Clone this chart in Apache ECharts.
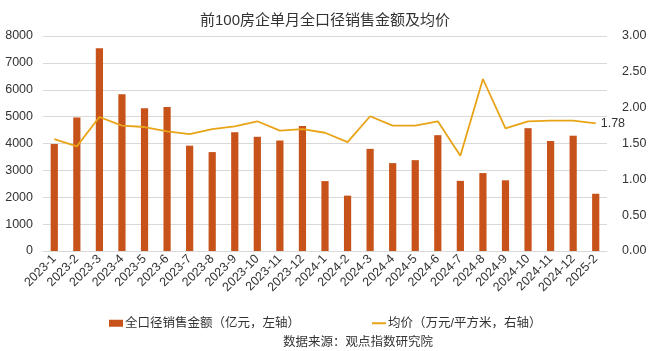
<!DOCTYPE html>
<html>
<head>
<meta charset="utf-8">
<script src="https://cdn.jsdelivr.net/npm/echarts@6/dist/echarts.min.js"></script>
<style>
  html, body { margin: 0; padding: 0; background: #fff; }
  #chart { width: 650px; height: 351px; }
</style>
</head>
<body>
<div id="chart"></div>
<script>
// 月份
const months = [
  '2023-1', '2023-2', '2023-3', '2023-4', '2023-5', '2023-6', '2023-7', '2023-8',
  '2023-9', '2023-10', '2023-11', '2023-12', '2024-1', '2024-2', '2024-3', '2024-4',
  '2024-5', '2024-6', '2024-7', '2024-8', '2024-9', '2024-10', '2024-11', '2024-12', '2025-2'
];
// 全口径销售金额（亿元）
const salesAmount = [
  3980, 4970, 7540, 5830, 5310, 5360, 3920, 3680,
  4420, 4250, 4110, 4650, 2600, 2060, 3800, 3270,
  3380, 4310, 2610, 2900, 2630, 4570, 4090, 4290, 2130
];
// 均价（万元/平方米）
const avgPrice = [
  1.56, 1.46, 1.87, 1.75, 1.73, 1.67, 1.63, 1.70,
  1.74, 1.81, 1.68, 1.70, 1.65, 1.52, 1.88, 1.75,
  1.75, 1.81, 1.33, 2.40, 1.71, 1.81, 1.82, 1.82, 1.78
];

const barColor = '#C7531A';
const lineColor = '#E8A317';
const textColor = '#333';
const gridColor = '#d9d9d9';
const fontFamily = '"Liberation Sans", "Noto Sans CJK SC", sans-serif';

const chart = echarts.init(document.getElementById('chart'));
chart.setOption({
  animation: false,
  textStyle: { fontFamily: fontFamily },
  title: [
    {
      text: '前100房企单月全口径销售金额及均价',
      left: 'center',
      top: 8,
      textStyle: { color: textColor, fontSize: 15, fontWeight: 'normal', fontFamily: fontFamily }
    },
    {
      text: '数据来源：观点指数研究院',
      left: 278,
      top: 331,
      textStyle: { color: textColor, fontSize: 12.5, fontWeight: 'normal', fontFamily: fontFamily }
    }
  ],
  legend: {
    left: 104,
    top: 312,
    itemGap: 72,
    itemWidth: 14,
    itemHeight: 7,
    textStyle: { color: textColor, fontSize: 12.5, fontFamily: fontFamily, padding: [0, 0, 0, -3] },
    data: [
      { name: '全口径销售金额（亿元，左轴）', icon: 'rect' },
      { name: '均价（万元/平方米，右轴）', icon: 'path://M0,0L14,0L14,2L0,2Z' }
    ]
  },
  grid: { left: 43, right: 43, top: 36, bottom: 100 },
  xAxis: {
    type: 'category',
    data: months,
    axisLine: { lineStyle: { color: gridColor } },
    axisTick: { show: false },
    axisLabel: { rotate: 45, color: textColor, fontSize: 12.5, margin: 6, interval: 0 }
  },
  yAxis: [
    {
      type: 'value',
      min: 0,
      max: 8000,
      interval: 1000,
      axisLine: { show: false },
      axisTick: { show: false },
      axisLabel: { color: textColor, fontSize: 12.5, margin: 10, formatter: (v) => String(v) },
      splitLine: { lineStyle: { color: gridColor } }
    },
    {
      type: 'value',
      min: 0,
      max: 3,
      interval: 0.5,
      axisLine: { show: false },
      axisTick: { show: false },
      axisLabel: { color: textColor, fontSize: 12.5, margin: 15, formatter: (v) => v.toFixed(2) },
      splitLine: { show: false }
    }
  ],
  series: [
    {
      name: '全口径销售金额（亿元，左轴）',
      type: 'bar',
      data: salesAmount,
      barWidth: '32%',
      itemStyle: { color: barColor }
    },
    {
      name: '均价（万元/平方米，右轴）',
      type: 'line',
      yAxisIndex: 1,
      data: avgPrice,
      symbol: 'none',
      lineStyle: { color: lineColor, width: 1.8 },
      itemStyle: { color: lineColor },
      endLabel: {
        show: true,
        distance: 5,
        color: textColor,
        fontSize: 12.5,
        formatter: (p) => p.value.toFixed(2)
      }
    }
  ]
});
</script>
</body>
</html>
